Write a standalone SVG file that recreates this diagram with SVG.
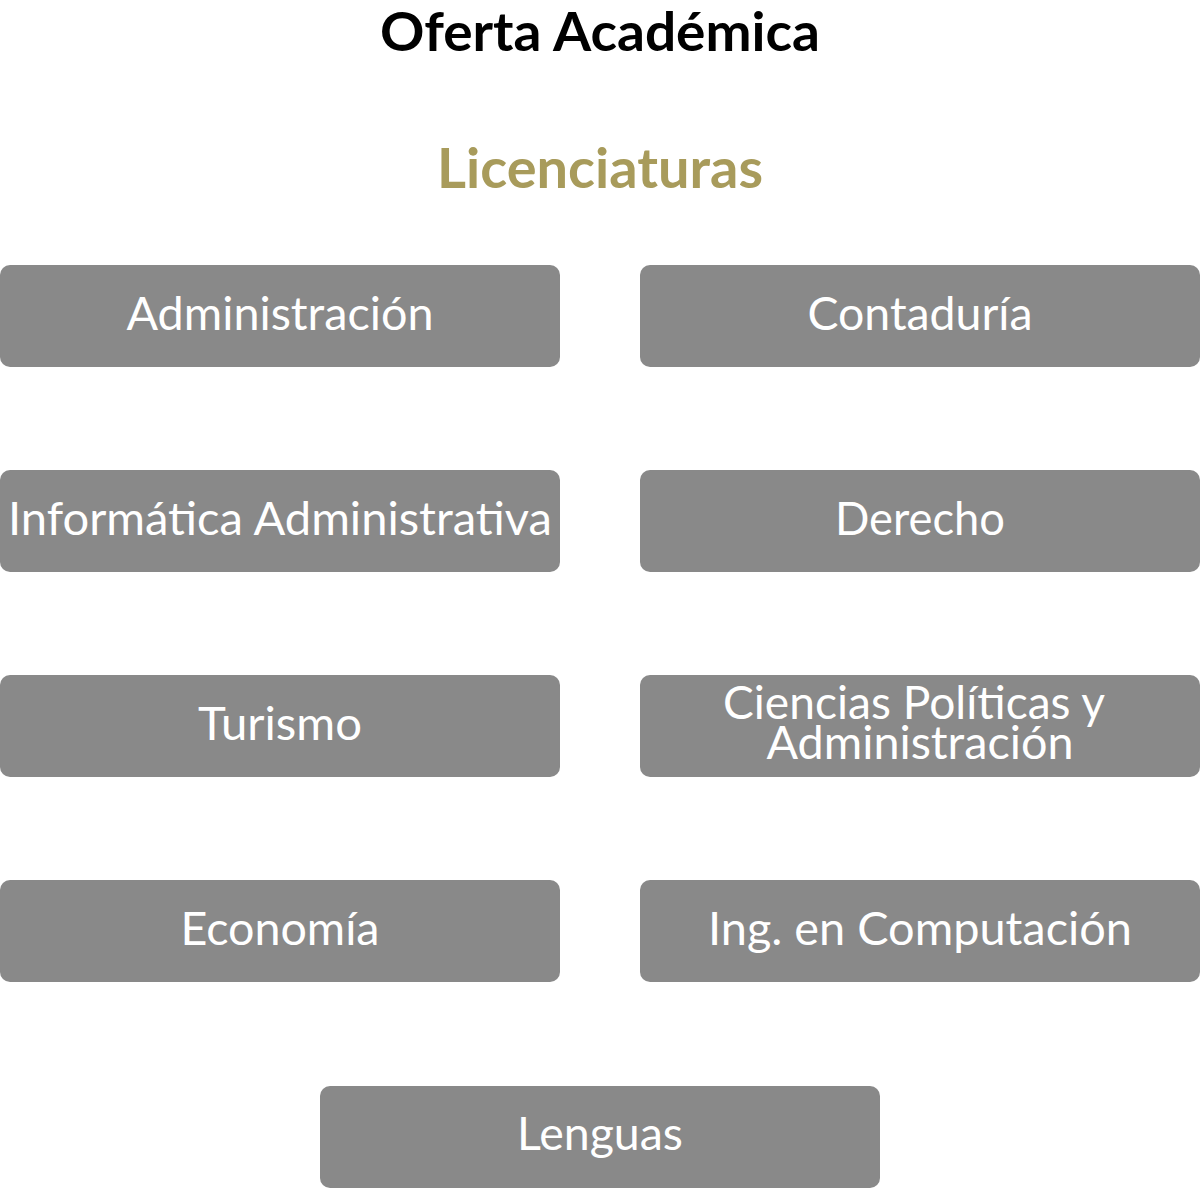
<svg xmlns="http://www.w3.org/2000/svg" width="1200" height="1200" viewBox="0 0 1200 1200">
<style>
.box{fill:#898989;}
.lbl{font-family:Lato,"Open Sans","Liberation Sans",sans-serif;font-size:46px;fill:#ffffff;text-anchor:middle;}
.title{font-family:Lato,"Open Sans","Liberation Sans",sans-serif;font-weight:bold;text-anchor:middle;}
</style>
<rect width="1200" height="1200" fill="#ffffff"/>
<text class="title" x="600" y="51" font-size="53" fill="#000000" textLength="440" lengthAdjust="spacingAndGlyphs">Oferta Académica</text>
<text class="title" x="600" y="188" font-size="55" fill="#A89B5B" textLength="326" lengthAdjust="spacingAndGlyphs">Licenciaturas</text>
<g id="connectors"></g>
<g id="n-administracion"><rect class="box" x="0" y="265" width="560" height="102" rx="10"/><text class="lbl" x="280" y="330" textLength="307" lengthAdjust="spacingAndGlyphs">Administración</text></g>
<g id="n-contaduria"><rect class="box" x="640" y="265" width="560" height="102" rx="10"/><text class="lbl" x="920" y="330" textLength="225" lengthAdjust="spacingAndGlyphs">Contaduría</text></g>
<g id="n-informatica"><rect class="box" x="0" y="470" width="560" height="102" rx="10"/><text class="lbl" x="280" y="535" textLength="544" lengthAdjust="spacingAndGlyphs">Informática Administrativa</text></g>
<g id="n-derecho"><rect class="box" x="640" y="470" width="560" height="102" rx="10"/><text class="lbl" x="920" y="535" textLength="170" lengthAdjust="spacingAndGlyphs">Derecho</text></g>
<g id="n-turismo"><rect class="box" x="0" y="675" width="560" height="102" rx="10"/><text class="lbl" x="280" y="740" textLength="164" lengthAdjust="spacingAndGlyphs">Turismo</text></g>
<g id="n-ciencias"><rect class="box" x="640" y="675" width="560" height="102" rx="10"/><text class="lbl" x="914" y="719" textLength="382" lengthAdjust="spacingAndGlyphs">Ciencias Políticas y</text><text class="lbl" x="920" y="759" textLength="307" lengthAdjust="spacingAndGlyphs">Administración</text></g>
<g id="n-economia"><rect class="box" x="0" y="880" width="560" height="102" rx="10"/><text class="lbl" x="280" y="945" textLength="199" lengthAdjust="spacingAndGlyphs">Economía</text></g>
<g id="n-computacion"><rect class="box" x="640" y="880" width="560" height="102" rx="10"/><text class="lbl" x="920" y="945" textLength="424" lengthAdjust="spacingAndGlyphs">Ing. en Computación</text></g>
<g id="n-lenguas"><rect class="box" x="320" y="1086" width="560" height="102" rx="10"/><text class="lbl" x="600" y="1150" textLength="166" lengthAdjust="spacingAndGlyphs">Lenguas</text></g>
</svg>
